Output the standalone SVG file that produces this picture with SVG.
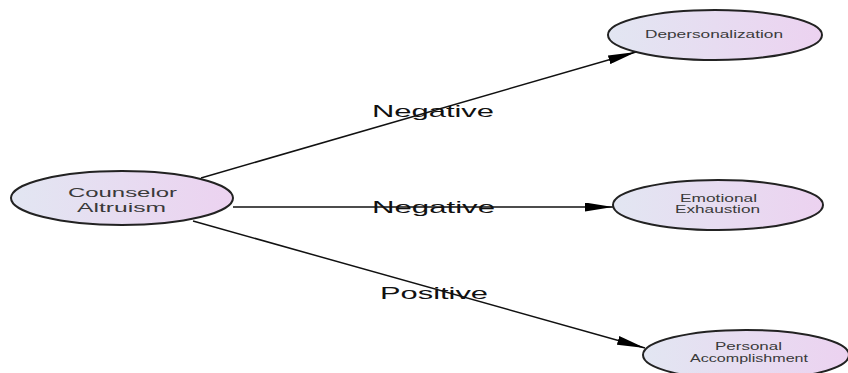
<svg xmlns="http://www.w3.org/2000/svg" width="848" height="373" viewBox="0 0 848 373">
<defs>
<linearGradient id="fill" x1="0" y1="0" x2="1" y2="0">
<stop offset="0" stop-color="#e2e6f2"/>
<stop offset="1" stop-color="#ecd2f0"/>
</linearGradient>
<marker id="arr" markerWidth="28" markerHeight="9" refX="28" refY="4.5" orient="auto" markerUnits="userSpaceOnUse">
<path d="M0,0 L28,4.5 L0,9 Z" fill="#000"/>
</marker>
</defs>
<style>
.node ellipse{fill:url(#fill);stroke:#222;stroke-width:2}
.node text{font-family:"Liberation Sans",Arial,sans-serif;fill:#3a3a3a;text-anchor:start}
.edge{stroke:#111;stroke-width:1.5;fill:none;marker-end:url(#arr)}
.lbl{font-family:"Liberation Sans",Arial,sans-serif;font-size:17px;fill:#111}
</style>
<rect width="848" height="373" fill="#fff"/>
<g id="connectors">
<line class="edge" x1="201" y1="178" x2="636" y2="52"/>
<line class="edge" x1="233" y1="207" x2="613" y2="207"/>
<line class="edge" x1="193" y1="221" x2="645" y2="348"/>
</g>
<g id="labels">
<text class="lbl" x="372" y="117" textLength="122" lengthAdjust="spacingAndGlyphs">Negative</text>
<text class="lbl" x="372" y="213" textLength="123" lengthAdjust="spacingAndGlyphs">Negative</text>
<text class="lbl" x="380" y="299" textLength="108" lengthAdjust="spacingAndGlyphs">Positive</text>
</g>
<g id="counselor" class="node">
<ellipse cx="122" cy="198" rx="111" ry="27"/>
<text x="68" y="197" font-size="13" textLength="109" lengthAdjust="spacingAndGlyphs">Counselor</text>
<text x="77" y="212" font-size="13" textLength="89" lengthAdjust="spacingAndGlyphs">Altruism</text>
</g>
<g id="depersonalization" class="node">
<ellipse cx="715" cy="35" rx="107" ry="25"/>
<text x="645" y="38" font-size="10" textLength="138" lengthAdjust="spacingAndGlyphs">Depersonalization</text>
</g>
<g id="emotional" class="node">
<ellipse cx="718" cy="205" rx="105" ry="25"/>
<text x="680" y="202" font-size="10" textLength="77" lengthAdjust="spacingAndGlyphs">Emotional</text>
<text x="675" y="213" font-size="10" textLength="85" lengthAdjust="spacingAndGlyphs">Exhaustion</text>
</g>
<g id="personal" class="node">
<ellipse cx="746" cy="355" rx="103" ry="25"/>
<text x="715" y="350" font-size="10" textLength="67" lengthAdjust="spacingAndGlyphs">Personal</text>
<text x="690" y="362" font-size="10" textLength="118" lengthAdjust="spacingAndGlyphs">Accomplishment</text>
</g>
</svg>
